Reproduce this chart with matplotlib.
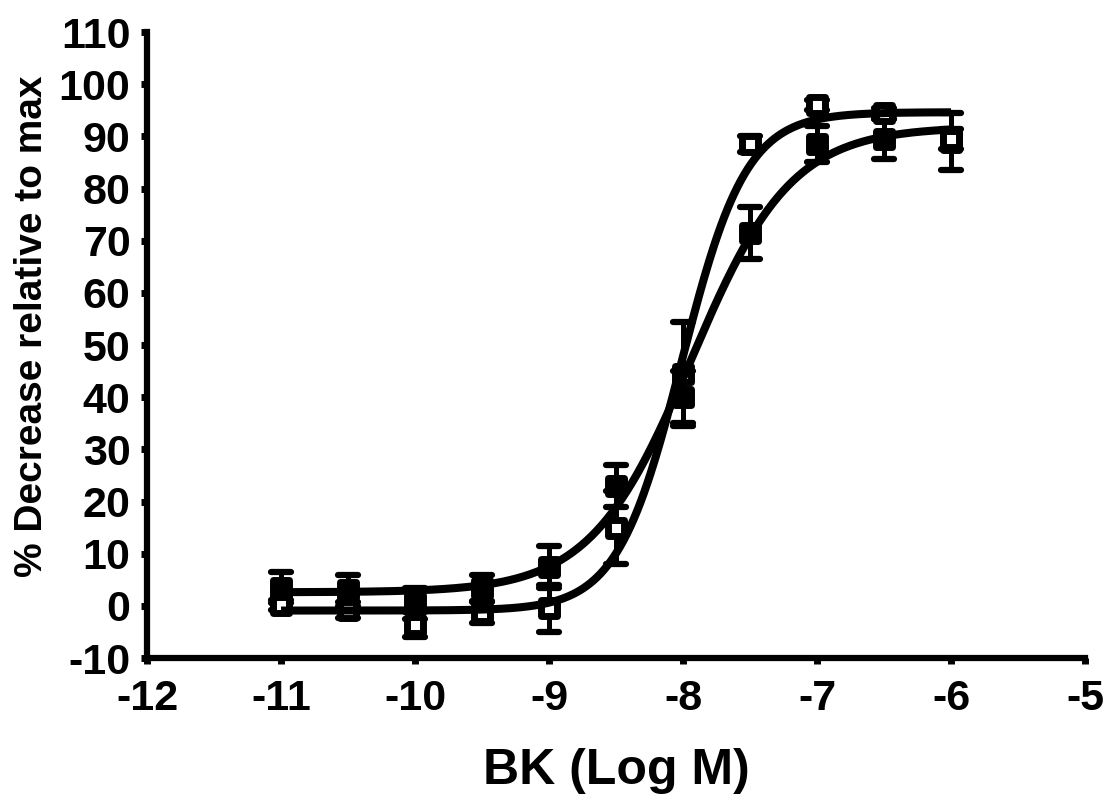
import numpy as np
import matplotlib
matplotlib.use("Agg")
import matplotlib.pyplot as plt
from matplotlib.markers import MarkerStyle

# log molar bradykinin concentrations
log_conc = [-11.0, -10.5, -10.0, -9.5, -9.0, -8.5, -8.0, -7.5, -7.0, -6.5, -6.0]

# filled squares: mean and SEM
filled_mean = [3.5, 3.0, 0.5, 3.5, 7.5, 23.0, 40.0, 71.5, 88.5, 89.5, 89.0]
filled_sem = [3.0, 3.0, 3.0, 2.5, 4.0, 4.0, 5.0, 5.0, 3.5, 3.8, 5.5]

# open squares: mean and SEM
open_mean = [0.2, -0.8, -3.6, -1.3, -0.5, 15.0, 44.5, 88.5, 96.0, 94.4, 89.5]
open_sem = [1.0, 1.5, 2.4, 2.0, 4.5, 7.0, 10.0, 1.5, 1.0, 1.0, 2.0]

x_ticks = [-12, -11, -10, -9, -8, -7, -6, -5]
y_ticks = list(range(-10, 111, 10))


def fit_logistic(x, y):
    """Four-parameter logistic fit: grid over logEC50/Hill, linear solve for bottom/top."""
    x = np.asarray(x, float)
    y = np.asarray(y, float)
    best = None
    for ec in np.linspace(-9.5, -6.5, 301):
        for h in np.linspace(0.3, 3.0, 271):
            s = 1.0 / (1.0 + 10 ** ((ec - x) * h))
            A = np.column_stack([np.ones_like(s), s])
            coef, *_ = np.linalg.lstsq(A, y, rcond=None)
            sse = np.sum((A @ coef - y) ** 2)
            if best is None or sse < best[0]:
                best = (sse, coef[0], coef[0] + coef[1], ec, h)
    _, bottom, top, ec, h = best
    return bottom, top, ec, h


def logistic(x, bottom, top, ec, h):
    return bottom + (top - bottom) / (1.0 + 10 ** ((ec - x) * h))


plt.rcParams["font.family"] = ["Liberation Sans", "DejaVu Sans"]
plt.rcParams["font.weight"] = "bold"

fig = plt.figure(figsize=(11.09, 7.97), dpi=100)
ax = fig.add_axes([0.1326, 0.1744, 0.8458, 0.7854])

sq = MarkerStyle("s", joinstyle="round")
cap_marker = MarkerStyle("_", capstyle="round")


def draw_series(mean, sem, face):
    eb = ax.errorbar(log_conc, mean, yerr=sem, fmt="none", ecolor="black",
                     elinewidth=3.6, capsize=7.5, capthick=4.5, zorder=2)
    for cap in eb[1]:
        cap.set_marker(cap_marker)
    ax.plot(log_conc, mean, linestyle="none", marker=sq, markersize=11.5,
            markerfacecolor=face, markeredgecolor="black",
            markeredgewidth=5.0, zorder=3)


draw_series(filled_mean, filled_sem, "black")
draw_series(open_mean, open_sem, "white")

xs = np.linspace(min(log_conc), max(log_conc), 400)
for mean in (filled_mean, open_mean):
    p = fit_logistic(log_conc, mean)
    ax.plot(xs, logistic(xs, *p), color="black", linewidth=5.8,
            solid_capstyle="butt", zorder=4)

ax.set_xlim(-12, -5)
ax.set_ylim(-10, 110)
ax.set_xticks(x_ticks)
ax.set_yticks(y_ticks)
ax.set_xticklabels([str(t) for t in x_ticks])
ax.set_yticklabels([str(t) for t in y_ticks])

for side in ("top", "right"):
    ax.spines[side].set_visible(False)
for side in ("left", "bottom"):
    ax.spines[side].set_linewidth(4.5)
    ax.spines[side].set_capstyle("projecting")

ax.tick_params(axis="both", direction="out", length=4, width=5,
               labelsize=31, color="black")
ax.tick_params(axis="x", pad=11)
ax.tick_params(axis="y", pad=8)
for lab in ax.get_xticklabels() + ax.get_yticklabels():
    lab.set_fontweight("bold")

ax.set_xlabel("BK (Log M)", fontsize=36, fontweight="bold")
ax.set_ylabel("% Decrease relative to max", fontsize=28, fontweight="bold")
ax.xaxis.set_label_coords(0.5, -0.143)
ax.yaxis.set_label_coords(-0.103, 0.53)

fig.savefig("out.png", dpi=100)
